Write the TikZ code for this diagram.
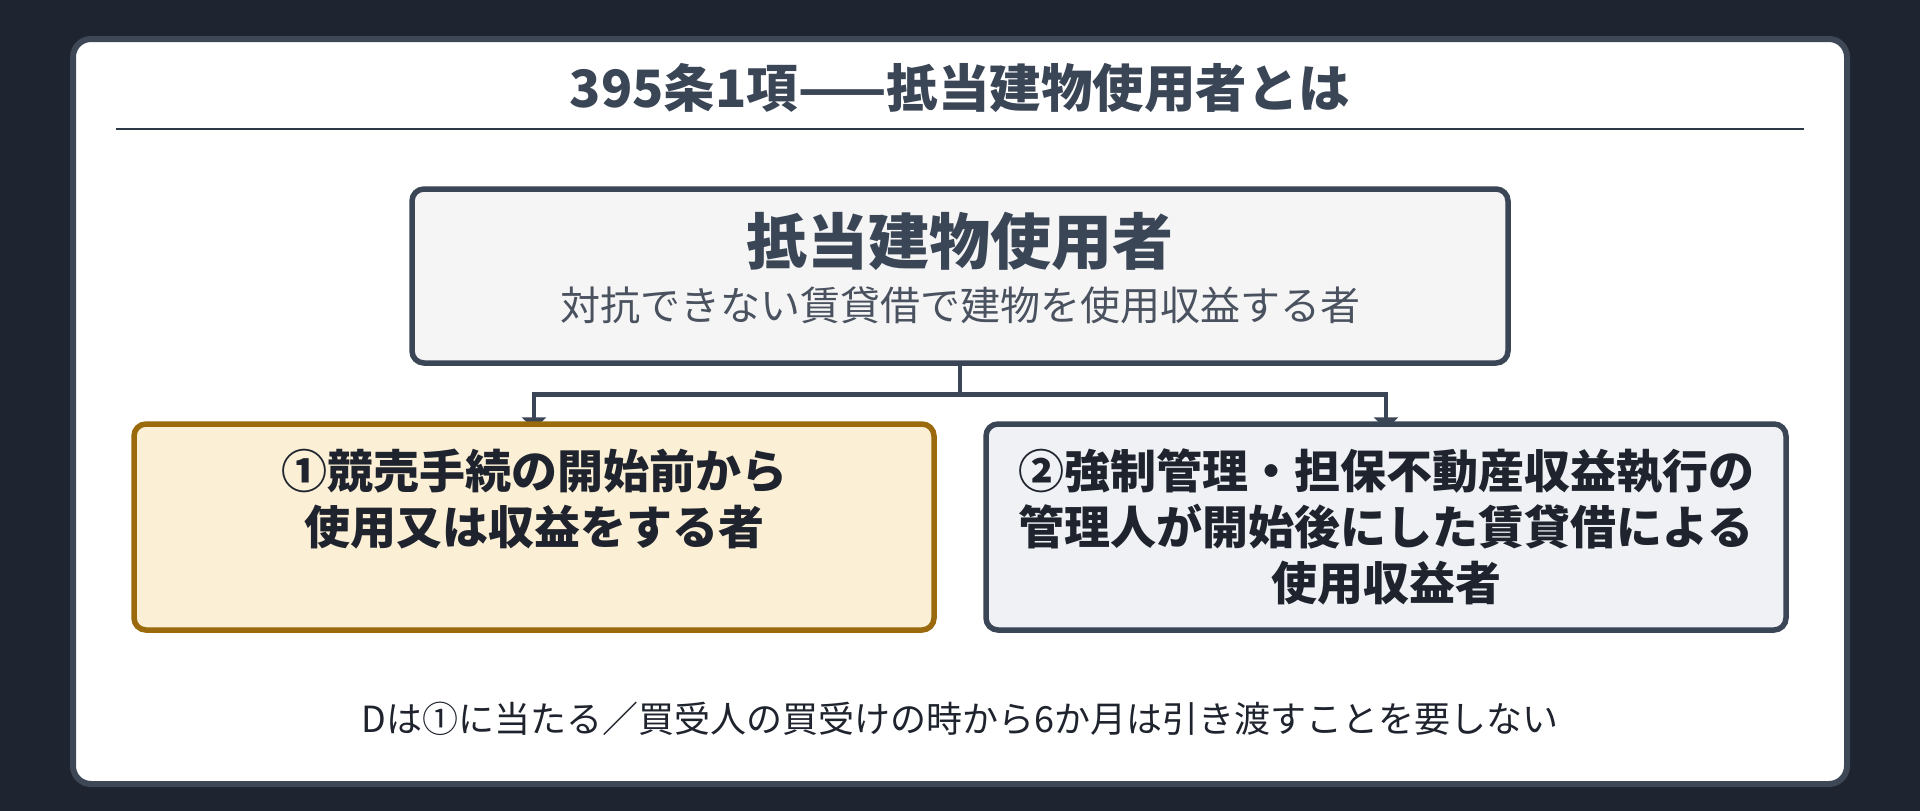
\documentclass[tikz,border=0pt]{standalone}
\usepackage{fontspec}
\setmainfont{Noto Sans CJK JP}
\usetikzlibrary{arrows.meta}

\definecolor{pagebg}{HTML}{1E2430}
\definecolor{cardline}{HTML}{3D4756}
\definecolor{slate}{HTML}{3A4556}
\definecolor{ink}{HTML}{1E232D}
\definecolor{subink}{HTML}{4A5260}
\definecolor{mainfill}{HTML}{F5F5F5}
\definecolor{creamfill}{HTML}{FBEFD6}
\definecolor{goldline}{HTML}{9A6A0C}
\definecolor{greyfill}{HTML}{EFF1F5}

\pgfdeclarelayer{back}
\pgfdeclarelayer{wires}
\pgfsetlayers{back,wires,main}

\begin{document}
\begin{tikzpicture}[x=1pt,y=-1pt,
    box/.style={draw, line width=5.5pt, rounded corners=12pt, inner sep=0pt},
    wire/.style={draw=slate, line width=4.5pt},
    bigtext/.style={font=\fontsize{46}{56}\selectfont\bfseries, text=ink, align=center}]
    \useasboundingbox (0,0) rectangle (1920,811);

    \begin{pgfonlayer}{back}
        \fill[pagebg] (0,0) rectangle (1920,811);
        \draw[cardline, fill=white, line width=6pt, rounded corners=18pt] (73,39) rectangle (1847,784);
    \end{pgfonlayer}

    \node[font=\fontsize{51.5}{56}\selectfont\bfseries, text=slate] (title) at (960,88) {395条1項——抵当建物使用者とは};
    \draw[slate!80!black, line width=2.5pt] (116,129) -- (1804,129);

    \node[box, draw=slate, fill=mainfill, minimum width=1096pt, minimum height=174pt] (M) at (960,276) {};
    \node[font=\fontsize{61}{64}\selectfont\bfseries, text=slate] (Mhead) at (960,241) {抵当建物使用者};
    \node[font=\fontsize{40}{44}\selectfont, text=subink] (Msub) at (960,305) {対抗できない賃貸借で建物を使用収益する者};

    \node[box, draw=goldline, fill=creamfill, minimum width=800pt, minimum height=206pt] (L) at (534,527) {};
    \node[bigtext] (Ltext) at (534,499) {①競売手続の開始前から\\使用又は収益をする者};

    \node[box, draw=slate, fill=greyfill, minimum width=800pt, minimum height=206pt] (R) at (1386,527) {};
    \node[bigtext] (Rtext) at (1386,527) {②強制管理・担保不動産収益執行の\\管理人が開始後にした賃貸借による\\使用収益者};

    \coordinate (J) at (960,394.5);
    \begin{pgfonlayer}{wires}
        \draw[wire] (M.south) -- (J);
        \draw[wire, -{Triangle[width=24pt,length=12pt]}] (J) -| ([yshift=-8pt]L.north);
        \draw[wire, -{Triangle[width=24pt,length=12pt]}] (J) -| ([yshift=-8pt]R.north);
    \end{pgfonlayer}

    \node[font=\fontsize{36}{40}\selectfont, text=ink] (note) at (960,719) {Dは①に当たる／買受人の買受けの時から6か月は引き渡すことを要しない};
\end{tikzpicture}
\end{document}
